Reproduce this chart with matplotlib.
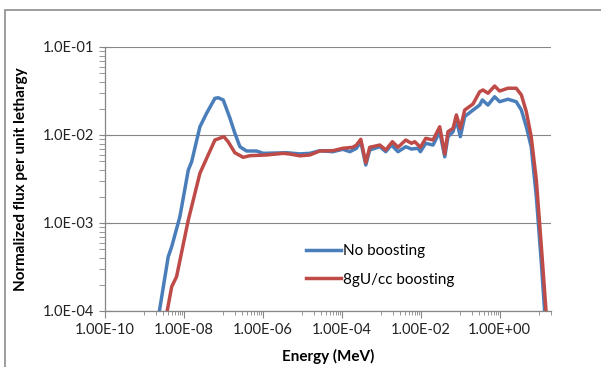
import numpy as np
import matplotlib
matplotlib.use("Agg")
import matplotlib.pyplot as plt
from matplotlib.ticker import FixedLocator, FuncFormatter, NullFormatter, LogLocator
from matplotlib.patches import Rectangle

# Energy (MeV) and normalized flux per unit lethargy
energy_no_boost = [2.3e-9, 4.0e-9, 4.9e-9, 7.9e-9, 1.29e-8, 1.57e-8, 2.54e-8, 3.76e-8,
                   6.1e-8, 7.4e-8, 9.9e-8, 1.46e-7, 1.95e-7, 2.62e-7, 3.86e-7, 6.9e-7,
                   1.02e-6, 4.0e-6, 8.6e-6, 1.55e-5, 2.77e-5, 5.9e-5, 1.06e-4, 1.6e-4,
                   2.35e-4, 3.03e-4, 4.06e-4, 5.1e-4, 9.2e-4, 1.3e-3, 1.81e-3, 2.66e-3,
                   4.17e-3, 5.8e-3, 8.55e-3, 9.8e-3, 1.34e-2, 2.05e-2, 3.03e-2, 4.06e-2,
                   4.9e-2, 6.6e-2, 8.0e-2, 0.101, 0.13, 0.211, 0.312, 0.365, 0.506,
                   0.746, 1.0, 1.62, 2.63, 3.55, 4.74, 6.3, 8.5, 11.4, 14.0]
flux_no_boost = [9.0e-5, 4.14e-4, 5.38e-4, 1.18e-3, 4.0e-3, 4.97e-3, 1.24e-2, 1.77e-2,
                 2.61e-2, 2.65e-2, 2.5e-2, 1.56e-2, 1.05e-2, 7.36e-3, 6.58e-3, 6.58e-3,
                 6.19e-3, 6.29e-3, 6.1e-3, 6.19e-3, 6.63e-3, 6.46e-3, 6.88e-3, 6.46e-3,
                 7.06e-3, 8.39e-3, 4.56e-3, 6.76e-3, 7.36e-3, 6.46e-3, 7.69e-3, 6.46e-3,
                 7.36e-3, 6.93e-3, 7.06e-3, 6.46e-3, 8.05e-3, 7.69e-3, 1.09e-2, 5.66e-3,
                 9.57e-3, 1.09e-2, 1.48e-2, 9.57e-3, 1.62e-2, 1.92e-2, 2.19e-2, 2.5e-2,
                 2.19e-2, 2.72e-2, 2.39e-2, 2.55e-2, 2.39e-2, 1.92e-2, 1.24e-2, 7.36e-3,
                 1.99e-3, 3.48e-4, 9.0e-5]

energy_boost = [3.6e-9, 4.9e-9, 6.5e-9, 1.29e-8, 2.54e-8, 3.76e-8, 6.1e-8, 1.03e-7,
                1.32e-7, 1.95e-7, 3.17e-7, 4.69e-7, 1.24e-6, 3.27e-6, 4.83e-6, 8.6e-6,
                1.55e-5, 2.77e-5, 5.9e-5, 1.06e-4, 1.9e-4, 2.35e-4, 3.03e-4, 4.06e-4,
                5.1e-4, 9.2e-4, 1.3e-3, 1.92e-3, 2.66e-3, 4.17e-3, 5.8e-3, 7.05e-3,
                9.8e-3, 1.34e-2, 2.05e-2, 3.03e-2, 4.06e-2, 4.9e-2, 6.6e-2, 8.0e-2,
                0.101, 0.13, 0.211, 0.312, 0.378, 0.506, 0.746, 1.0, 1.62, 2.63, 3.55,
                4.74, 6.3, 8.5, 11.4, 15.2]
flux_boost = [9.0e-5, 1.89e-4, 2.45e-4, 1.08e-3, 3.67e-3, 5.43e-3, 8.77e-3, 9.57e-3,
              8.39e-3, 6.29e-3, 5.58e-3, 5.82e-3, 5.93e-3, 6.19e-3, 6.08e-3, 5.8e-3,
              5.93e-3, 6.58e-3, 6.63e-3, 7.06e-3, 7.25e-3, 7.69e-3, 8.94e-3, 4.84e-3,
              7.25e-3, 7.69e-3, 6.76e-3, 8.39e-3, 7.25e-3, 8.77e-3, 8.05e-3, 8.39e-3,
              7.25e-3, 9.17e-3, 8.77e-3, 1.24e-2, 6.08e-3, 1.09e-2, 1.19e-2, 1.69e-2,
              1.19e-2, 1.92e-2, 2.25e-2, 3.1e-2, 3.25e-2, 2.98e-2, 3.6e-2, 3.16e-2,
              3.4e-2, 3.4e-2, 2.85e-2, 1.84e-2, 9.57e-3, 3.08e-3, 5.38e-4, 9.0e-5]

x_major = [1e-10, 1e-8, 1e-6, 1e-4, 1e-2, 1e0]
y_major = [1e-4, 1e-3, 1e-2, 1e-1]

BLUE = '#4a7ebb'
RED = '#be4b48'
AXIS_GREY = '#868686'

plt.rcParams['font.family'] = ['Lato', 'DejaVu Sans']

fig = plt.figure(figsize=(6.01, 3.67), dpi=100)
ax = fig.add_axes([105 / 601, 1 - 311 / 367, 446 / 601, 264 / 367])

ax.plot(energy_no_boost, flux_no_boost, color=BLUE, lw=2.5,
        solid_joinstyle='round', label='No boosting', zorder=3)
ax.plot(energy_boost, flux_boost, color=RED, lw=2.5,
        solid_joinstyle='round', label='8gU/cc boosting', zorder=4)

ax.set_xscale('log')
ax.set_yscale('log')
ax.set_xlim(1e-10, 20)
ax.set_ylim(1e-4, 1e-1)

# Excel style log axis with base 100: minor ticks at 10..90 x each major
x_minor = []
for m in x_major:
    for k in range(1, 10):
        v = m * 10 * k
        if v <= 20:
            x_minor.append(v)
ax.xaxis.set_major_locator(FixedLocator(x_major))
ax.xaxis.set_minor_locator(FixedLocator(x_minor))
ax.xaxis.set_major_formatter(FuncFormatter(lambda v, p: '%.2E' % v))
ax.xaxis.set_minor_formatter(NullFormatter())

ax.yaxis.set_major_locator(FixedLocator(y_major))
ax.yaxis.set_minor_locator(LogLocator(base=10, subs=np.arange(2, 10)))
ax.yaxis.set_major_formatter(FuncFormatter(lambda v, p: '%.1E' % v))
ax.yaxis.set_minor_formatter(NullFormatter())

ax.tick_params(axis='both', which='major', labelsize=10.5, color=AXIS_GREY,
               labelcolor='#222222', pad=4)
ax.tick_params(axis='x', which='major', length=5, direction='out')
ax.tick_params(axis='x', which='minor', length=3, direction='out', color=AXIS_GREY)
ax.tick_params(axis='y', which='major', length=8, direction='inout')
ax.tick_params(axis='y', which='minor', length=4, direction='out', color=AXIS_GREY)

ax.grid(True, which='major', axis='y', color=AXIS_GREY, lw=0.8)
for s in ['top', 'right']:
    ax.spines[s].set_visible(False)
for s in ['left', 'bottom']:
    ax.spines[s].set_color(AXIS_GREY)
    ax.spines[s].set_linewidth(0.9)

ax.set_xlabel('Energy (MeV)', fontsize=11, fontweight='bold', labelpad=8)
ax.set_ylabel('Normalized flux per unit lethargy', fontsize=11,
              fontweight='bold', labelpad=10)
ax.yaxis.set_label_coords(-0.172, 0.5)

ax.legend(loc='upper left', bbox_to_anchor=(300 / 601, 1 - 238 / 367),
          bbox_transform=fig.transFigure, frameon=False, fontsize=11,
          handlelength=2.3, handletextpad=0.1, labelspacing=0.95,
          borderaxespad=0)

# chart frame (only the left and top edges show in the original crop)
fig.patches.append(Rectangle((5 / 601, -0.1), 1.2, 1 - 10 / 367 + 0.1,
                             transform=fig.transFigure, fill=False,
                             edgecolor='#8c8c8c', lw=1.2))

fig.savefig('out.png', dpi=100)
